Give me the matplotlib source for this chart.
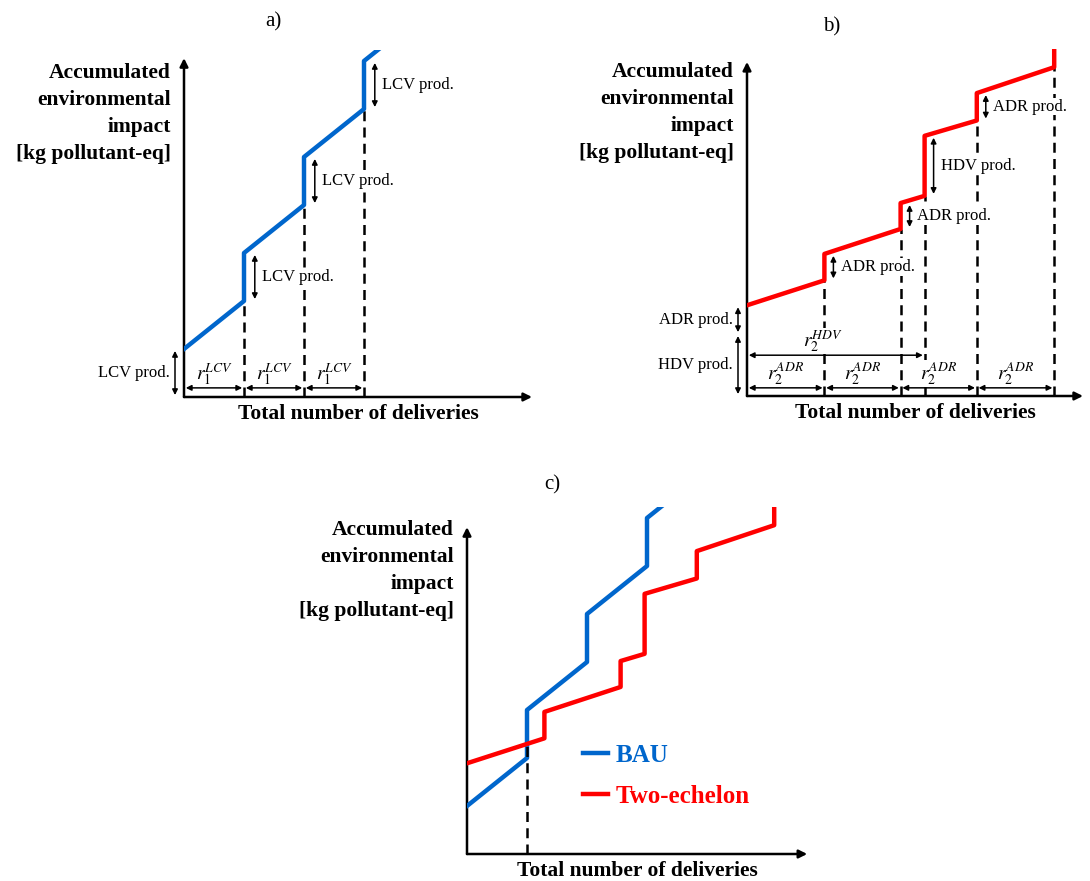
import numpy as np
import matplotlib
matplotlib.use('Agg')
import matplotlib.pyplot as plt

plt.rcParams['font.family'] = ['Liberation Serif', 'DejaVu Serif']
plt.rcParams['mathtext.fontset'] = 'stix'

# curve vertices (x in LCV delivery rounds, y in LCV production units)
bau_x = [0, 1, 1, 2, 2, 3, 3, 3.6]
bau_y = [1, 2, 3, 4, 5, 6, 7, 7.6]
two_x = [0, 1.29, 1.29, 2.56, 2.56, 2.96, 2.96, 3.83, 3.83, 5.12, 5.12]
two_y = [1.89, 2.41, 2.96, 3.48, 4.02, 4.17, 5.42, 5.74, 6.31, 6.85, 7.5]

# production steps (index of the step bottom vertex, label)
bau_steps = [(1, 'LCV prod.'), (3, 'LCV prod.'), (5, 'LCV prod.')]
two_steps = [(1, 'ADR prod.'), (3, 'ADR prod.'), (5, 'HDV prod.'), (7, 'ADR prod.')]
two_dashed = [1, 3, 5, 7, 9]

# initial production stacked on the y axis
bau_start = [(0, 1, 'LCV prod.')]
two_start = [(0, 1.29, 'HDV prod.'), (1.29, 1.89, 'ADR prod.')]

# delivery round boundaries
bau_rounds = [0, 1, 2, 3]
adr_rounds = [0, 1.29, 2.56, 3.83, 5.12]
hdv_round = [0, 2.96]

BLUE = '#0066CC'
RED = '#FF0000'
YLABEL = 'Accumulated\nenvironmental\nimpact\n[kg pollutant-eq]'

fig = plt.figure(figsize=(10.9, 8.81), dpi=100)
W, H = 1090, 881
XMAX, YMAX = 5.85, 7.22
aw, ah = XMAX * 60 / W, YMAX * 48 / H
ax_a = fig.add_axes([184 / W, (H - 397) / H, aw, ah])
ax_b = fig.add_axes([747 / W, (H - 396) / H, aw, ah])
ax_c = fig.add_axes([467 / W, (H - 854) / H, aw, ah])


def frame(ax, xend, yend):
    ax.set_xlim(0, XMAX)
    ax.set_ylim(0, YMAX)
    ax.axis('off')
    arr = dict(arrowstyle='-|>', color='k', lw=1.8, mutation_scale=12, shrinkA=0, shrinkB=0)
    ax.annotate('', xy=(xend, 0), xytext=(0, 0), arrowprops=arr, annotation_clip=False)
    ax.annotate('', xy=(0, yend), xytext=(0, 0), arrowprops=arr, annotation_clip=False)
    ax.text(-0.22, 5.9, YLABEL, ha='right', va='center', multialignment='right',
            fontsize=15.5, fontweight='bold', linespacing=1.46)
    ax.text(xend / 2, -0.36, 'Total number of deliveries', ha='center', va='center',
            fontsize=15.5, fontweight='bold')


def darrow(ax, p0, p1):
    ax.annotate('', xy=p1, xytext=p0, annotation_clip=False,
                arrowprops=dict(arrowstyle='<|-|>', color='k', lw=1.1, mutation_scale=8,
                                shrinkA=0, shrinkB=0))


def label(ax, x, y, s, ha='left', size=12, pad=0.5):
    ax.text(x, y, s, ha=ha, va='center', fontsize=size, zorder=3,
            bbox=dict(fc='white', ec='none', pad=pad))


def dashed(ax, x, y):
    ax.plot([x, x], [0, y], color='k', lw=1.8, dashes=(4, 2.5), zorder=2)


def steps(ax, xs, ys, items, dx):
    for i, s in items:
        darrow(ax, (xs[i] + dx, ys[i] + 0.04), (xs[i] + dx, ys[i + 1] - 0.04))
        label(ax, xs[i] + dx + 0.12, (ys[i] + ys[i + 1]) / 2, s)


def start(ax, items):
    for lo, hi, s in items:
        darrow(ax, (-0.15, lo + 0.04), (-0.15, hi - 0.04))
        label(ax, -0.23, (lo + hi) / 2, s, ha='right')


def rounds(ax, bounds, s, y_arrow, y_text):
    for a, b in zip(bounds[:-1], bounds[1:]):
        darrow(ax, (a + 0.03, y_arrow), (b - 0.03, y_arrow))
        label(ax, (a + b) / 2, y_text, s, ha='center', size=14, pad=0)


# a) BAU
frame(ax_a, 5.8, 7.06)
for i, _ in bau_steps:
    dashed(ax_a, bau_x[i], bau_y[i])
ax_a.plot(bau_x, bau_y, color=BLUE, lw=3.2, zorder=5)
steps(ax_a, bau_x, bau_y, bau_steps, 0.18)
start(ax_a, bau_start)
rounds(ax_a, bau_rounds, r'$r_1^{LCV}$', 0.19, 0.47)

# b) two-echelon
frame(ax_b, 5.6, 6.96)
for i in two_dashed:
    dashed(ax_b, two_x[i], two_y[i])
ax_b.plot(two_x, two_y, color=RED, lw=3.2, zorder=5)
steps(ax_b, two_x, two_y, two_steps, 0.15)
start(ax_b, two_start)
rounds(ax_b, adr_rounds, r'$r_2^{ADR}$', 0.17, 0.47)
darrow(ax_b, (hdv_round[0] + 0.03, 0.85), (hdv_round[1] - 0.03, 0.85))
label(ax_b, 1.27, 1.15, r'$r_2^{HDV}$', ha='center', size=14, pad=0)

# c) comparison
frame(ax_c, 5.67, 6.81)
ax_c.plot(bau_x, bau_y, color=BLUE, lw=3.2, zorder=3, label='BAU')
ax_c.plot(two_x, two_y, color=RED, lw=3.2, zorder=3, label='Two-echelon')
cross = np.interp(bau_x[1], two_x[:2], two_y[:2])
ax_c.plot([bau_x[1], bau_x[1]], [0, cross], color='k', lw=1.8, dashes=(4, 2.5), zorder=4)
ax_c.legend(loc='upper left', bbox_to_anchor=(1.93, 2.3), bbox_transform=ax_c.transData,
            frameon=False, handlelength=1.0, handletextpad=0.3, labelspacing=0.72,
            borderpad=0, borderaxespad=0, labelcolor='linecolor',
            prop=dict(family='Liberation Serif', weight='bold', size=18))

fig.text(273 / W, 1 - 22 / H, 'a)', ha='center', va='center', fontsize=15)
fig.text(832 / W, 1 - 27 / H, 'b)', ha='center', va='center', fontsize=15)
fig.text(552 / W, 1 - 485 / H, 'c)', ha='center', va='center', fontsize=15)

fig.savefig('out.png', dpi=100)
